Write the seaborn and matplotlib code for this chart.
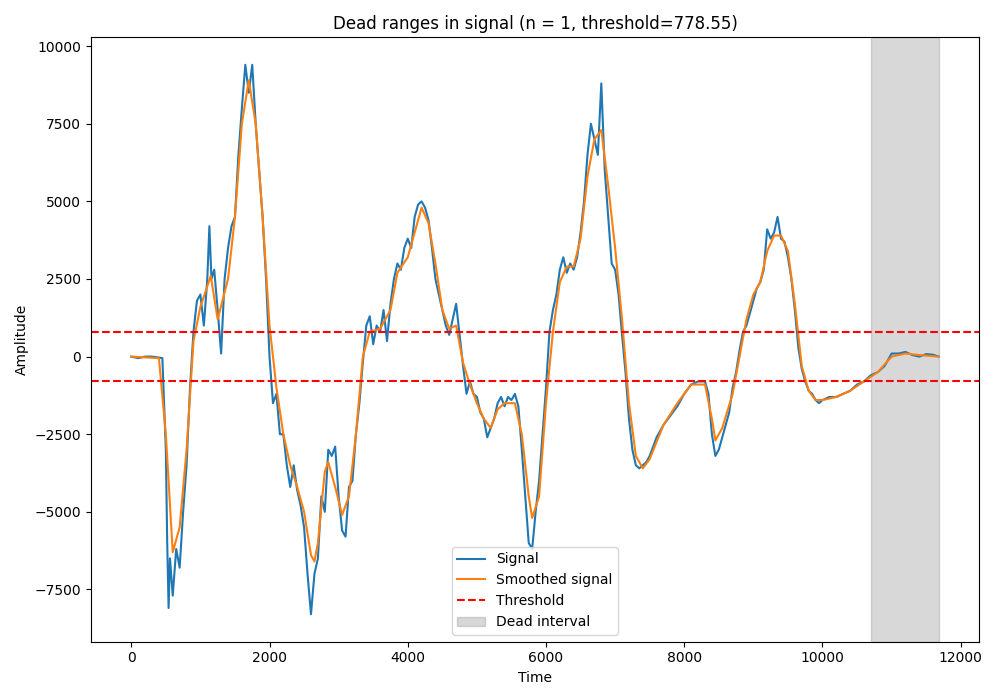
import numpy as np
import pandas as pd
import seaborn as sns
import matplotlib
matplotlib.use("Agg")
import matplotlib.pyplot as plt

# signal values (time, amplitude)
sig_t = [0, 100, 200, 300, 400, 450, 500, 520, 540, 560, 600, 650, 700, 750, 800, 850, 900, 950, 1000, 1050,
         1100, 1130, 1160, 1200, 1250, 1300, 1350, 1400, 1450, 1500, 1550, 1600, 1650, 1700, 1750, 1800, 1850, 1900, 1950, 2000,
         2050, 2100, 2150, 2200, 2250, 2300, 2350, 2400, 2450, 2500, 2550, 2600, 2650, 2700, 2750, 2800, 2850, 2900, 2950, 3000,
         3050, 3100, 3150, 3200, 3250, 3300, 3350, 3400, 3450, 3500, 3550, 3600, 3650, 3700, 3750, 3800, 3850, 3900, 3950, 4000,
         4050, 4100, 4150, 4200, 4250, 4300, 4350, 4400, 4450, 4500, 4550, 4600, 4650, 4700, 4750, 4800, 4850, 4900, 4950, 5000,
         5050, 5100, 5150, 5200, 5250, 5300, 5350, 5400, 5450, 5500, 5550, 5600, 5650, 5700, 5750, 5800, 5850, 5900, 5950, 6000,
         6050, 6100, 6150, 6200, 6250, 6300, 6350, 6400, 6450, 6500, 6550, 6600, 6650, 6700, 6750, 6800, 6850, 6900, 6950, 7000,
         7050, 7100, 7150, 7200, 7250, 7300, 7350, 7400, 7450, 7500, 7600, 7700, 7800, 7900, 8000, 8100, 8200, 8300, 8350, 8400,
         8450, 8500, 8550, 8600, 8650, 8700, 8750, 8800, 8850, 8900, 8950, 9000, 9050, 9100, 9150, 9200, 9250, 9300, 9350, 9400,
         9450, 9500, 9550, 9600, 9650, 9700, 9750, 9800, 9850, 9900, 9950, 10000, 10100, 10200, 10300, 10400, 10500, 10600, 10700, 10800,
         10900, 11000, 11100, 11200, 11300, 11400, 11500, 11600, 11680]
sig_v = [0, -50, 0, 0, -30, -50, -3000, -6000, -8100, -6500, -7700, -6200, -6800, -5000, -3500, -1000, 800, 1800, 2000, 1000,
         2500, 4200, 2500, 2800, 1500, 100, 2500, 3500, 4200, 4500, 6500, 8000, 9400, 8500, 9400, 7500, 6000, 4500, 2500, 0,
         -1500, -1200, -2500, -2500, -3500, -4200, -3500, -4300, -4800, -5500, -7000, -8300, -7000, -6500, -4500, -5000, -3000, -3200, -2900, -4500,
         -5600, -5800, -4200, -4000, -2500, -1500, -200, 1000, 1300, 400, 1000, 800, 1500, 500, 1700, 2500, 3000, 2800, 3500, 3800,
         3500, 4500, 4900, 5000, 4800, 4400, 3500, 2500, 2000, 1500, 1000, 700, 1200, 1700, 700, -300, -1200, -800, -1200, -1300,
         -1800, -2000, -2600, -2300, -2000, -1500, -1300, -1600, -1300, -1400, -1200, -1600, -3000, -4500, -6000, -6200, -5000, -4000, -2500, -1000,
         800, 1500, 2000, 2800, 3200, 2700, 3000, 2800, 3200, 4000, 5000, 6500, 7500, 7000, 6500, 8800, 6000, 4500, 3000, 2800,
         2000, 700, -500, -2000, -3000, -3500, -3600, -3500, -3400, -3200, -2600, -2200, -1900, -1600, -1200, -900, -800, -800, -1200, -2500,
         -3200, -3000, -2600, -2200, -1800, -1000, -500, 200, 800, 1000, 1400, 1800, 2200, 2400, 2800, 4100, 3800, 4000, 4500, 3800,
         3700, 3200, 2500, 1500, 300, -400, -800, -1100, -1200, -1400, -1500, -1400, -1300, -1300, -1200, -1100, -900, -800, -600, -500,
         -300, 100, 100, 150, 50, 0, 80, 60, 0]

smooth_t = [0, 400, 500, 600, 700, 800, 900, 1000, 1150, 1250, 1400, 1500, 1600, 1700, 1800, 1900, 2000, 2100, 2200, 2300,
            2400, 2500, 2600, 2650, 2700, 2800, 2850, 2950, 3050, 3150, 3250, 3350, 3450, 3600, 3750, 3850, 4000, 4100, 4200, 4300,
            4400, 4500, 4600, 4700, 4800, 4900, 5000, 5100, 5200, 5300, 5400, 5550, 5650, 5750, 5800, 5900, 6000, 6100, 6200, 6300,
            6400, 6500, 6600, 6700, 6800, 6900, 7000, 7100, 7200, 7300, 7400, 7500, 7700, 7900, 8100, 8300, 8400, 8450, 8550, 8700,
            8800, 8900, 9000, 9100, 9200, 9300, 9400, 9500, 9600, 9700, 9800, 9900, 10000, 10200, 10400, 10600, 10800, 11000, 11200, 11400, 11680]
smooth_v = [0, -50, -2500, -6300, -5500, -3000, 500, 1600, 2600, 1200, 2500, 4500, 7500, 8900, 7500, 4500, 1000, -1000, -2500, -3500,
            -4200, -5000, -6400, -6600, -6000, -3700, -3400, -4200, -5100, -4500, -2500, 0, 800, 900, 1500, 2700, 3200, 4000, 4800, 4300,
            3000, 1500, 900, 1000, -200, -900, -1500, -2000, -2300, -1700, -1500, -1500, -2500, -4500, -5200, -4500, -1500, 800, 2400, 2900,
            2900, 3800, 5800, 7000, 7300, 5500, 3500, 1200, -1500, -3200, -3600, -3300, -2200, -1500, -900, -900, -2000, -2700, -2300, -1200,
            0, 1200, 2000, 2400, 3400, 3900, 3900, 3400, 1700, -300, -1100, -1400, -1400, -1300, -1100, -800, -500, 0, 100, 50, 0]

threshold = 778.55
dead_start, dead_end = 10700, 11680

fig, ax = plt.subplots(figsize=(10, 7), dpi=100)
sns.lineplot(x=sig_t, y=sig_v, ax=ax, color="#1f77b4", label="Signal", linewidth=1.5)
sns.lineplot(x=smooth_t, y=smooth_v, ax=ax, color="#ff7f0e", label="Smoothed signal", linewidth=1.5)
ax.axhline(threshold, color="red", linestyle="--", label="Threshold")
ax.axhline(-threshold, color="red", linestyle="--")
ax.axvspan(dead_start, dead_end, color="gray", alpha=0.3, label="Dead interval")
ax.set_title(f"Dead ranges in signal (n = 1, threshold={threshold:.2f})")
ax.set_xlabel("Time")
ax.set_ylabel("Amplitude")
ax.legend(loc="lower center")
plt.tight_layout()
plt.savefig("out.png")
